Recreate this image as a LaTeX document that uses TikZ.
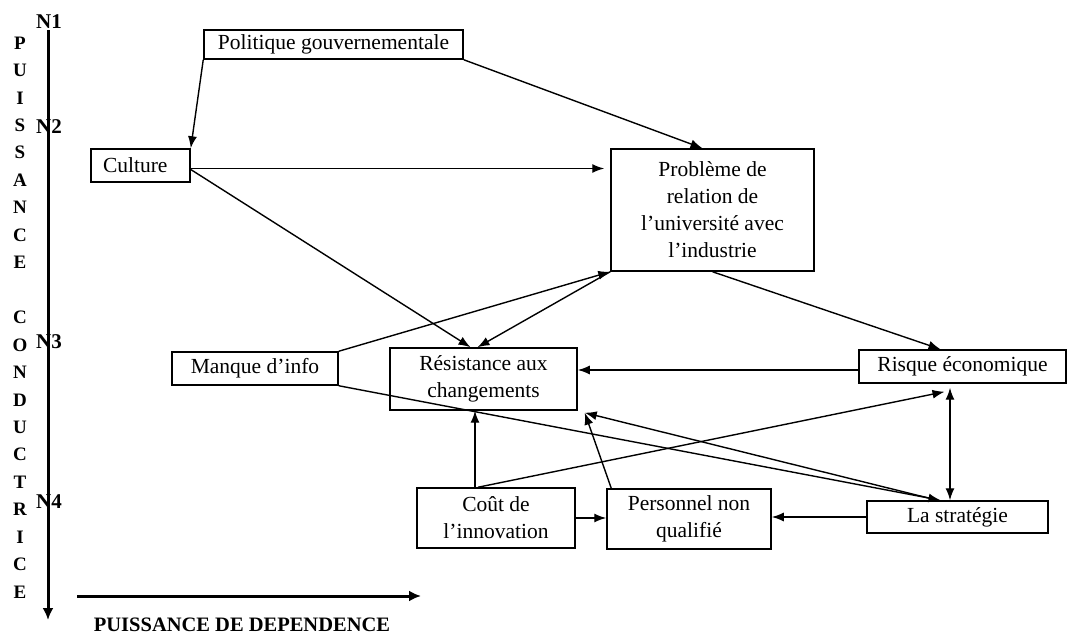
\documentclass[tikz,border=0pt]{standalone}
\usepackage{fontspec}
\setmainfont{Liberation Serif}
\usetikzlibrary{arrows.meta,calc}

\begin{document}
\begin{tikzpicture}[x=1pt,y=-1pt,
  box/.style={draw,line width=1.5pt,inner sep=0pt,align=center,font=\fontsize{21.5}{27}\selectfont},
  arr/.style={line width=1.4pt,-{Latex[length=12pt,width=9pt]}},
  arrs/.style={line width=1.4pt,{Latex[length=12pt,width=9pt]}-{Latex[length=12pt,width=9pt]}},
  axe/.style={line width=3pt,-{Latex[length=12pt,width=11pt]}},
  lettre/.style={font=\bfseries\fontsize{19}{19}\selectfont,inner sep=0pt},
  niveau/.style={font=\bfseries\fontsize{21}{21}\selectfont,inner sep=0pt}]
\useasboundingbox (0,0) rectangle (1069,636);

\coordinate (haut) at (48,30);
\coordinate (bas) at (48,620);
\coordinate (gauche) at (77,596);
\coordinate (droite) at (421,596);
\draw[axe] (haut) -- (bas);
\draw[axe] (gauche) -- (droite);

\foreach \l [count=\i from 0] in {P,U,I,S,S,A,N,C,E,{},C,O,N,D,U,C,T,R,I,C,E}
  \node[lettre] (v\i) at (20,43+27.45*\i) {\l};

\node[niveau] (n1) at (49,22) {N1};
\node[niveau] (n2) at (49,127) {N2};
\node[niveau] (n3) at (49,342) {N3};
\node[niveau] (n4) at (49,502) {N4};
\node[lettre,font=\bfseries\fontsize{20.5}{20.5}\selectfont] (dep) at (242,625) {PUISSANCE DE DEPENDENCE};

\node[box,minimum width=259pt,minimum height=29pt] (pol) at (333.5,44.5) {Politique gouvernementale};
\node[box,minimum width=99pt,minimum height=33pt,text width=75pt,align=left] (cul) at (140.5,165.5) {Culture};
\node[box,minimum width=203pt,minimum height=122pt] (prob) at (712.5,210) {Problème de\\relation de\\l’université avec\\l’industrie};
\node[box,minimum width=166pt,minimum height=33pt] (manq) at (255,368.5) {Manque d’info};
\node[box,minimum width=187pt,minimum height=62pt] (res) at (483.5,379) {Résistance aux\\changements};
\node[box,minimum width=207pt,minimum height=33pt] (risk) at (962.5,366.5) {Risque économique};
\node[box,minimum width=158pt,minimum height=60pt] (cout) at (496,518) {Coût de\\l’innovation};
\node[box,minimum width=164pt,minimum height=60pt] (pers) at (689,519) {Personnel non\\qualifié};
\node[box,minimum width=181pt,minimum height=32pt] (strat) at (957.5,517) {La stratégie};

\coordinate (coin) at ([xshift=7pt,yshift=-2pt]res.south east);

\draw[arr] (pol.south west) -- (cul.north east);
\draw[arr] (pol.south east) -- ([xshift=-10pt]prob.north);
\draw[arr,shorten >=6pt] ([yshift=-3pt]cul.east) -- ([yshift=-3pt]cul.east -| prob.west);
\draw[arr] ([yshift=-4pt]cul.east) -- ([xshift=-13pt]res.north);
\draw[arr] (manq.north east) -- (prob.south west);
\draw[arr] (prob.south west) -- ([xshift=-6pt]res.north);
\draw[arr] (prob.south) -- ([xshift=-22pt]risk.north);
\draw[arr] ([yshift=-3.5pt]risk.west) -- ([yshift=-3.5pt]risk.west -| res.east);
\draw[arr] (manq.south east) -- ([xshift=-17pt]strat.north);
\draw[arr] ([xshift=-20pt]strat.north) -- (coin);
\draw[arr] ([xshift=-18pt]cout.north) -- ([xshift=-18pt,yshift=-8pt]risk.south);
\draw[arr] ([xshift=-21pt]cout.north) -- ([xshift=-21pt]cout.north |- res.south);
\draw[arr] ([xshift=5pt]pers.north west) -- (coin);
\draw[arr] (cout.east) -- (cout.east -| pers.west);
\draw[arr] (strat.west) -- (strat.west -| pers.east);
\draw[arrs,shorten <=4pt] ([xshift=-7.5pt]strat.north |- risk.south) -- ([xshift=-7.5pt]strat.north);

\end{tikzpicture}
\end{document}
